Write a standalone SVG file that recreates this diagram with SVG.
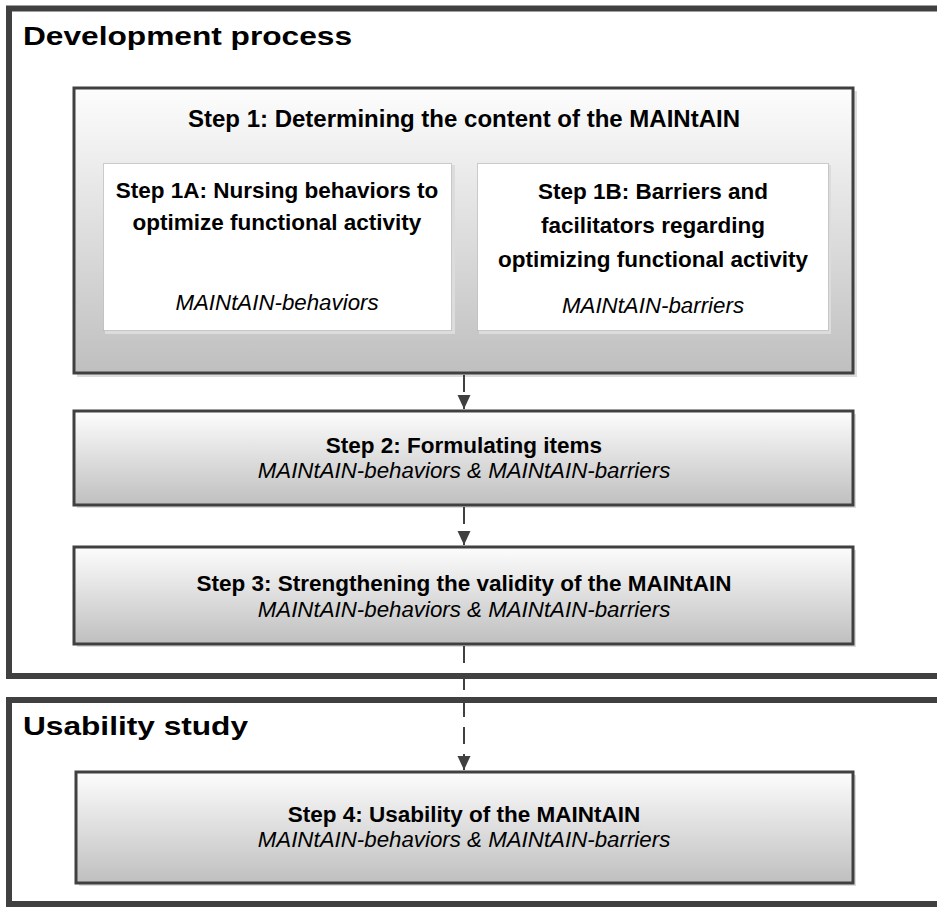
<svg xmlns="http://www.w3.org/2000/svg" width="937" height="908" viewBox="0 0 937 908">
<defs>
<linearGradient id="g" x1="0" y1="0" x2="0" y2="1">
<stop offset="0" stop-color="#fdfdfd"/>
<stop offset="1" stop-color="#bfbfbf"/>
</linearGradient>
<marker id="arr" markerWidth="14" markerHeight="14" refX="14" refY="7" orient="auto" markerUnits="userSpaceOnUse" viewBox="0 0 14 14">
<path d="M0,0.5 L14,7 L0,13.5 Z" fill="#404040"/>
</marker>
</defs>
<style>
.frame{fill:#fff;stroke:#404040;stroke-width:6}
.step{fill:url(#g);stroke:#404040;stroke-width:3}
.shadow{fill:#dcdcdc}
.sub{fill:#fff;stroke:#a0a0a0;stroke-width:1;stroke-dasharray:1 1}
.h{font-family:"Liberation Sans",Arial,sans-serif;font-weight:bold;font-size:25px;fill:#000}
.b{font-family:"Liberation Sans",Arial,sans-serif;font-weight:bold;font-size:22.5px;fill:#000;text-anchor:middle}
.t{font-size:24px}
.i{font-family:"Liberation Sans",Arial,sans-serif;font-style:italic;font-size:22.3px;fill:#000;text-anchor:middle}
.con{stroke:#404040;stroke-width:2;fill:none;stroke-dasharray:17 10}
</style>
<g id="dev-process">
<rect class="frame" x="9" y="8.5" width="932" height="667.5"/>
<text class="h" x="23" y="45" textLength="329" lengthAdjust="spacingAndGlyphs">Development process</text>
</g>
<g id="usability">
<rect class="frame" x="9" y="700" width="932" height="204"/>
<text class="h" x="23" y="735" textLength="225" lengthAdjust="spacingAndGlyphs">Usability study</text>
</g>
<g id="step1">
<rect class="shadow" x="77" y="91" width="780" height="286"/>
<rect class="step" x="74" y="88" width="779" height="285"/>
<text class="b t" x="464" y="127">Step 1: Determining the content of the MAINtAIN</text>
</g>
<g id="step1a">
<rect class="shadow" x="105" y="165" width="350" height="169"/>
<rect class="sub" x="103.5" y="163.5" width="348" height="167"/>
<text class="b" x="277" y="198">Step 1A: Nursing behaviors to</text>
<text class="b" x="277" y="230">optimize functional activity</text>
<text class="i" x="277" y="310">MAINtAIN-behaviors</text>
</g>
<g id="step1b">
<rect class="shadow" x="479" y="165" width="352" height="169"/>
<rect class="sub" x="477.5" y="163.5" width="351" height="167"/>
<text class="b" x="653" y="199">Step 1B: Barriers and</text>
<text class="b" x="653" y="233">facilitators regarding</text>
<text class="b" x="653" y="267">optimizing functional activity</text>
<text class="i" x="653" y="313">MAINtAIN-barriers</text>
</g>
<g id="step2">
<rect class="shadow" x="77" y="414" width="779" height="94"/>
<rect class="step" x="74" y="411" width="779" height="94"/>
<text class="b" x="464" y="453">Step 2: Formulating items</text>
<text class="i" x="464" y="478">MAINtAIN-behaviors &amp; MAINtAIN-barriers</text>
</g>
<g id="step3">
<rect class="shadow" x="77" y="550" width="779" height="97"/>
<rect class="step" x="74" y="547" width="779" height="97"/>
<text class="b" x="464" y="591">Step 3: Strengthening the validity of the MAINtAIN</text>
<text class="i" x="464" y="617">MAINtAIN-behaviors &amp; MAINtAIN-barriers</text>
</g>
<g id="step4">
<rect class="shadow" x="79" y="775" width="777" height="111"/>
<rect class="step" x="76" y="772" width="777" height="111"/>
<text class="b" x="464" y="822">Step 4: Usability of the MAINtAIN</text>
<text class="i" x="464" y="847">MAINtAIN-behaviors &amp; MAINtAIN-barriers</text>
</g>
<g id="connectors">
<line class="con" x1="464" y1="375" x2="464" y2="409" marker-end="url(#arr)"/>
<line class="con" x1="464" y1="507" x2="464" y2="545" marker-end="url(#arr)"/>
<line class="con" x1="464" y1="646" x2="464" y2="770" marker-end="url(#arr)"/>
</g>
</svg>
